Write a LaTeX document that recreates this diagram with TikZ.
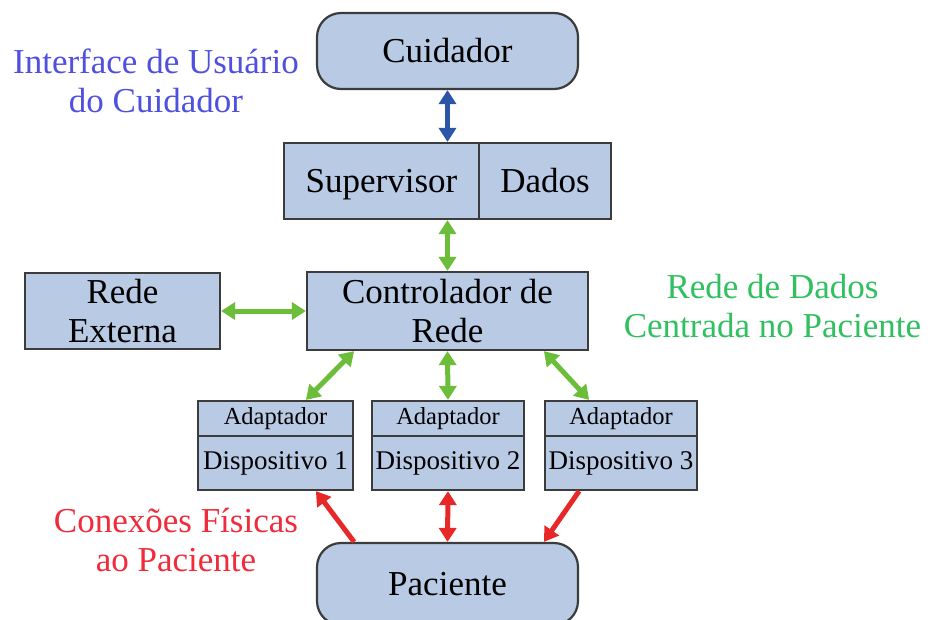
\documentclass[tikz,border=0pt]{standalone}
\usepackage{fontspec}
\setmainfont{Liberation Serif}
\usetikzlibrary{arrows.meta,calc}
\definecolor{boxfill}{HTML}{B9CAE4}
\definecolor{boxdraw}{HTML}{3C3C3C}
\definecolor{bluearr}{HTML}{2B56A8}
\definecolor{greenarr}{HTML}{6CBE3A}
\definecolor{redarr}{HTML}{E82828}
\definecolor{bluetxt}{HTML}{5050E0}
\definecolor{greentxt}{HTML}{30C060}
\definecolor{redtxt}{HTML}{F02C3C}
\tikzset{
  box/.style={draw=boxdraw, fill=boxfill, line width=2.2pt, inner sep=0pt,
    font=\fontsize{35}{39}\selectfont, align=center},
  oneline/.style={text height=27pt, text depth=5pt},
  rbox/.style={box, oneline, rounded corners=24pt},
  smallbox/.style={box, font=\fontsize{24.5}{28}\selectfont},
  devbox/.style={box, font=\fontsize{27}{30}\selectfont},
  lbl/.style={font=\fontsize{35}{39}\selectfont, align=center, inner sep=0pt},
  conn/.style={line width=5pt, {Triangle[length=14pt,width=17pt]}-{Triangle[length=14pt,width=17pt]}},
  conn1/.style={line width=5pt, -{Triangle[length=14pt,width=17pt]}},
}
\begin{document}
\begin{tikzpicture}[x=1pt,y=-1pt]
\useasboundingbox (0,0) rectangle (941,619);
\clip (0,0) rectangle (941,619);
\fill[white] (0,0) rectangle (941,619);

\node[rbox, minimum width=261pt, minimum height=76pt] (cuid) at (447.5,51) {Cuidador};
\node[box, oneline, minimum width=195pt, minimum height=76pt] (sup) at (381.5,181) {Supervisor};
\node[box, oneline, minimum width=132pt, minimum height=76pt] (dados) at (545,181) {Dados};
\node[box, minimum width=281pt, minimum height=78pt] (ctrl) at (447.5,311) {Controlador de\\Rede};
\node[box, minimum width=195pt, minimum height=76pt] (ext) at (122.5,311) {Rede\\Externa};

\node[smallbox, minimum width=155pt, minimum height=35pt] (a1) at (275.5,418.5) {Adaptador};
\node[devbox, minimum width=155pt, minimum height=54pt] (d1) at (275.5,463) {Dispositivo 1};
\node[smallbox, minimum width=152pt, minimum height=35pt] (a2) at (448,418.5) {Adaptador};
\node[devbox, minimum width=152pt, minimum height=54pt] (d2) at (448,463) {Dispositivo 2};
\node[smallbox, minimum width=152pt, minimum height=35pt] (a3) at (621,418.5) {Adaptador};
\node[devbox, minimum width=152pt, minimum height=54pt] (d3) at (621,463) {Dispositivo 3};

\node[rbox, minimum width=261pt, minimum height=82pt] (pac) at (447.5,584) {Paciente};

\node[lbl, text=bluetxt] (lui) at (156,81) {Interface de Usuário\\do Cuidador};
\node[lbl, text=greentxt] (lnet) at (772.5,306) {Rede de Dados\\Centrada no Paciente};
\node[lbl, text=redtxt] (lphy) at (176,540) {Conexões Físicas\\ao Paciente};

% connectors
\draw[conn, bluearr] (cuid.south) -- (cuid.south |- sup.north);
\draw[conn, greenarr] (ctrl.north |- sup.south) -- (ctrl.north);
\draw[conn, greenarr] (ext.east) -- (ctrl.west);
\draw[conn, greenarr] (ctrl.south -| d1.east) -- (a1.north -| ctrl.west);
\draw[conn, greenarr] (ctrl.south) -- (a2.north);
\draw[conn, greenarr] (ctrl.south -| d3.west) -- (a3.north -| ctrl.east);
\draw[conn1, redarr] (pac.north -| d1.east) -- (d1.south -| pac.west);
\draw[conn, redarr] (d2.south) -- (pac.north);
\draw[conn1, redarr] (d3.south -| pac.east) -- (pac.north -| d3.west);
\end{tikzpicture}
\end{document}
